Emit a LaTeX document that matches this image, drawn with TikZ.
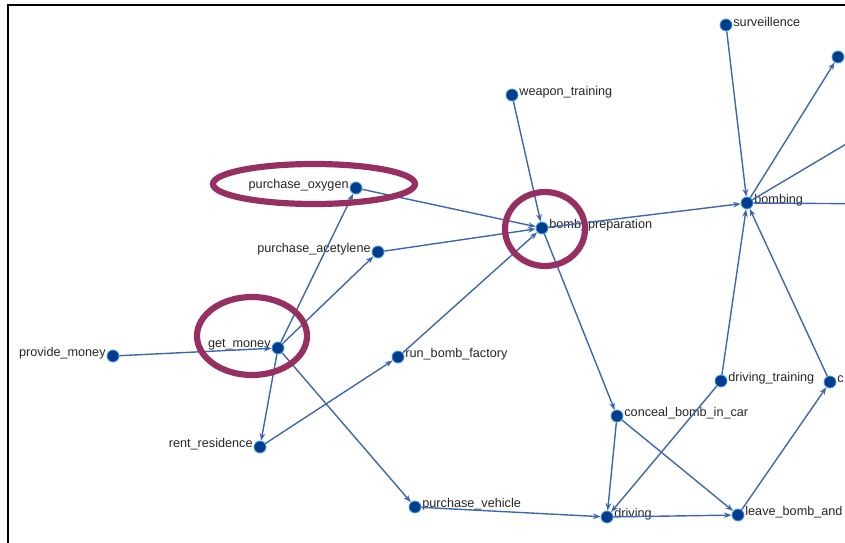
\documentclass[tikz,border=0pt]{standalone}
\usepackage{fontspec}
\setmainfont{Liberation Sans}
\usetikzlibrary{arrows.meta}
\definecolor{nodeblue}{RGB}{0,62,140}
\definecolor{haloblue}{RGB}{70,150,225}
\definecolor{edgeblue}{RGB}{62,104,172}
\definecolor{ringred}{RGB}{150,48,98}

\begin{document}
\begin{tikzpicture}[
    x=0.025cm, y=-0.025cm,
    font=\fontsize{9}{10}\selectfont,
    dot/.style={circle,fill=nodeblue,draw=haloblue,line width=0.6pt,inner sep=0pt,minimum size=8.5pt},
    lbl/.style={text=black!85,inner sep=0.5pt,yshift=2pt},
    >={Stealth[length=1.9mm,width=1.4mm]},
    arr/.style={->,draw=edgeblue,line width=1pt},
    ring/.style={draw=ringred,line width=4.4pt}
  ]
  \useasboundingbox (0,0) rectangle (845,543);
  \clip (0,0) rectangle (845,543);
  \draw[line width=1.4pt] (8,543) -- (8,5) -- (845,5);

  \node[dot,label={[lbl]right:surveillence}]        (surv)     at (726,25)  {};
  \node[dot]                                        (topright) at (838,57)  {};
  \node[dot,label={[lbl]right:weapon\_training}]    (weapon)   at (512,95)  {};
  \node[dot,label={[lbl]left:purchase\_oxygen}]     (oxygen)   at (356,188) {};
  \node[dot,label={[lbl]right:bombing}]             (bombing)  at (747,203) {};
  \node[dot,label={[lbl]right:bomb\_preparation}]   (prep)     at (542,228) {};
  \node[dot,label={[lbl]left:purchase\_acetylene}]  (acet)     at (378,252) {};
  \node[dot,label={[lbl]left:provide\_money}]       (provide)  at (113,356) {};
  \node[dot,label={[lbl]left:get\_money}]           (getmoney) at (278,348) {};
  \node[dot,label={[lbl]right:run\_bomb\_factory}]  (factory)  at (398,357) {};
  \node[dot,label={[lbl]right:driving\_training}]   (drvtrain) at (721,381) {};
  \node[dot,label={[lbl]right:c}]                   (cnode)    at (830,382) {};
  \node[dot,label={[lbl]right:conceal\_bomb\_in\_car}] (conceal) at (617,416) {};
  \node[dot,label={[lbl]left:rent\_residence}]      (rent)     at (260,447) {};
  \node[dot,label={[lbl]right:purchase\_vehicle}]   (vehicle)  at (415,507) {};
  \node[dot,label={[lbl]right:driving}]             (driving)  at (607,517) {};
  \node[dot,label={[lbl]right:leave\_bomb\_and}]    (leave)    at (738,515) {};
  \coordinate (offa) at (900,112);
  \coordinate (offb) at (900,204);

  \draw[arr] (provide)  -- (getmoney);
  \draw[arr] (getmoney) -- (oxygen);
  \draw[arr] (getmoney) -- (acet);
  \draw[arr] (getmoney) -- (rent);
  \draw[arr] (getmoney) -- (vehicle);
  \draw[arr] (rent)     -- (factory);
  \draw[arr] (oxygen)   -- (prep);
  \draw[arr] (acet)     -- (prep);
  \draw[arr] (factory)  -- (prep);
  \draw[arr] (weapon)   -- (prep);
  \draw[arr] (prep)     -- (bombing);
  \draw[arr] (prep)     -- (conceal);
  \draw[arr] (surv)     -- (bombing);
  \draw[arr] (bombing)  -- (topright);
  \draw[arr] (bombing)  -- (offa);
  \draw[arr] (bombing)  -- (offb);
  \draw[arr] (drvtrain) -- (bombing);
  \draw[arr] (cnode)    -- (bombing);
  \draw[arr] (conceal)  -- (driving);
  \draw[arr] (conceal)  -- (leave);
  \draw[arr] (drvtrain) -- (driving);
  \draw[arr] (vehicle)  -- (driving);
  \draw[arr] (driving)  -- (leave);
  \draw[arr] (leave)    -- (cnode);

  % highlighted steps
  \draw[ring] (314,184) ellipse [x radius=101, y radius=20];
  \draw[ring] (545,229) ellipse [x radius=40, y radius=37];
  \draw[ring] (252,336) ellipse [x radius=55, y radius=39];
\end{tikzpicture}
\end{document}
